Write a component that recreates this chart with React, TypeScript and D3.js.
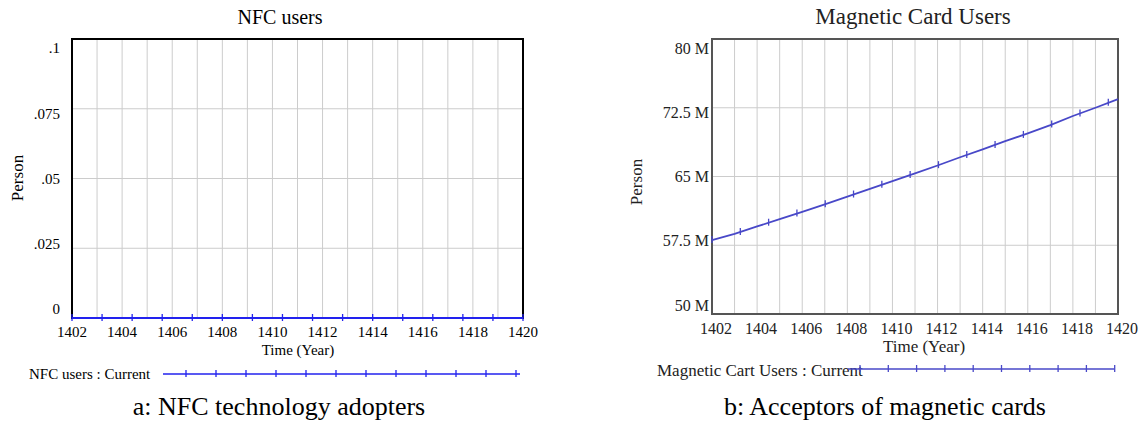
import React from "react";
import * as d3 from "d3";

const years = [1402, 1403, 1404, 1405, 1406, 1407, 1408, 1409, 1410, 1411, 1412, 1413, 1414, 1415, 1416, 1417, 1418, 1419, 1420];
const nfcValues = [0, 0, 0, 0, 0, 0, 0, 0, 0, 0, 0, 0, 0, 0, 0, 0, 0, 0, 0];
const magValues = [58.07, 58.75, 59.55, 60.35, 61.15, 61.95, 62.8, 63.65, 64.5, 65.35, 66.2, 67.1, 67.95, 68.85, 69.7, 70.6, 71.6, 72.5, 73.45];
const xTickYears = [1402, 1404, 1406, 1408, 1410, 1412, 1414, 1416, 1418, 1420];
const nfcYTicks = [0, 0.025, 0.05, 0.075, 0.1];
const nfcYLabels = ["0", ".025", ".05", ".075", ".1"];
const magYTicks = [50, 57.5, 65, 72.5, 80];
const magYLabels = ["50 M", "57.5 M", "65 M", "72.5 M", "80 M"];

const FONT = "Liberation Serif, Tinos, Times New Roman, DejaVu Serif, serif";

type PanelProps = {
  x0: number; x1: number; y0: number; y1: number;
  values: number[]; yTicks: number[]; yLabels: string[]; yDomain: [number, number];
  title: string; titleX: number; titleSize: number;
  tickSize: number; tickLabelDx: number; tickBaseline: number; yLabelEnd: number;
  xLabelX: number; xLabelY: number; xLabelSize: number;
  personX: number; personY: number;
  legendText: string; legendX: number; legendY: number; legendSize: number;
  legLineX0: number; legLineX1: number; legLineY: number; legMarkStart: number; legMarkStep: number;
  markStep: number; markCount: number;
  lineColor: string; frameColor: string; textColor: string; lineWidth: number;
  caption: string; captionX: number;
};

function Panel(p: PanelProps) {
  const x = d3.scaleLinear().domain([years[0], years[years.length - 1]]).range([p.x0, p.x1]);
  const y = d3.scaleLinear().domain(p.yDomain).range([p.y1, p.y0]);
  const interp = d3.scaleLinear<number>().domain(years).range(p.values);
  const line = d3.line<number>().x((_, i) => x(years[i])).y((v) => y(v));
  const mid = (p.y0 + p.y1) / 2;
  const markYears = d3.range(p.markCount).map((k) => years[0] + k * p.markStep);
  const legMarks = d3.range(p.legMarkStart, p.legLineX1 + 1, p.legMarkStep);
  const ts = { fontFamily: FONT };
  return (
    <g style={ts}>
      {years.map((yr) => (
        <line key={"vg" + yr} x1={x(yr)} x2={x(yr)} y1={p.y0} y2={p.y1} stroke="#cccccc" strokeWidth={1} />
      ))}
      {p.yTicks.map((t) => (
        <line key={"hg" + t} x1={p.x0} x2={p.x1} y1={y(t)} y2={y(t)} stroke="#cccccc" strokeWidth={1} />
      ))}
      <rect x={p.x0} y={p.y0} width={p.x1 - p.x0} height={p.y1 - p.y0} fill="none" stroke={p.frameColor} strokeWidth={2} />
      <path d={line(p.values) || ""} fill="none" stroke={p.lineColor} strokeWidth={p.lineWidth} />
      {markYears.map((my, i) => {
        const mx = x(my);
        const myy = y(interp(my));
        return <line key={"mk" + i} x1={mx} x2={mx} y1={myy - 4} y2={myy + 3} stroke={p.lineColor} strokeWidth={1.3} />;
      })}
      {p.yTicks.map((t, i) => (
        <text key={"yl" + t} style={ts} x={p.yLabelEnd} y={y(t) + (mid - y(t)) * 0.065} dy="0.35em" textAnchor="end" fontSize={p.tickSize} fill={p.textColor}>
          {p.yLabels[i]}
        </text>
      ))}
      {xTickYears.map((t) => (
        <text key={"xl" + t} style={ts} x={x(t) + p.tickLabelDx} y={p.tickBaseline} textAnchor="middle" fontSize={p.tickSize} fill={p.textColor}>
          {t}
        </text>
      ))}
      <text style={ts} x={p.titleX} y={24} textAnchor="middle" fontSize={p.titleSize} fill={p.textColor}>{p.title}</text>
      <text style={ts} x={p.xLabelX} y={p.xLabelY} textAnchor="middle" fontSize={p.xLabelSize} fill={p.textColor}>Time (Year)</text>
      <text style={ts} transform={`translate(${p.personX},${p.personY}) rotate(-90)`} textAnchor="middle" dy="0.35em" fontSize={17} fill={p.textColor}>Person</text>
      <text style={ts} x={p.legendX} y={p.legendY} fontSize={p.legendSize} fill={p.textColor}>{p.legendText}</text>
      <line x1={p.legLineX0} x2={p.legLineX1} y1={p.legLineY} y2={p.legLineY} stroke={p.lineColor} strokeWidth={1.5} />
      {legMarks.map((lx, i) => (
        <line key={"lm" + i} x1={lx} x2={lx} y1={p.legLineY - 4} y2={p.legLineY + 3} stroke={p.lineColor} strokeWidth={1.3} />
      ))}
      <text style={ts} x={p.captionX} y={415} textAnchor="middle" fontSize={26} fill="#000">{p.caption}</text>
    </g>
  );
}

export default function App() {
  return (
    <svg width={1145} height={425} style={{ position: "absolute", left: 0, top: 0, background: "#fff", fontFamily: FONT }}>
      <rect width={1145} height={425} fill="#fff" />
      <Panel
        x0={72} x1={523} y0={39} y1={318}
        values={nfcValues} yTicks={nfcYTicks} yLabels={nfcYLabels} yDomain={[0, 0.1]}
        title="NFC users" titleX={280} titleSize={20}
        tickSize={15} tickLabelDx={0} tickBaseline={337} yLabelEnd={60}
        xLabelX={298} xLabelY={355} xLabelSize={15}
        personX={17} personY={178}
        legendText="NFC users : Current" legendX={29} legendY={379} legendSize={15}
        legLineX0={163} legLineX1={520} legLineY={374} legMarkStart={186} legMarkStep={30}
        markStep={1.2} markCount={16}
        lineColor="#2222ee" frameColor="#000" textColor="#000" lineWidth={2}
        caption="a: NFC technology adopters" captionX={279}
      />
      <Panel
        x0={712} x1={1118} y0={39} y1={314}
        values={magValues} yTicks={magYTicks} yLabels={magYLabels} yDomain={[50, 80]}
        title="Magnetic Card Users" titleX={913} titleSize={23}
        tickSize={16} tickLabelDx={4} tickBaseline={334} yLabelEnd={709}
        xLabelX={924} xLabelY={352} xLabelSize={17}
        personX={636} personY={182}
        legendText="Magnetic Cart Users : Current" legendX={657} legendY={376} legendSize={17}
        legLineX0={848} legLineX1={1114} legLineY={369} legMarkStart={860} legMarkStep={28.3}
        markStep={1.255} markCount={15}
        lineColor="#4848c8" frameColor="#555" textColor="#222" lineWidth={1.8}
        caption="b: Acceptors of magnetic cards" captionX={885}
      />
    </svg>
  );
}
